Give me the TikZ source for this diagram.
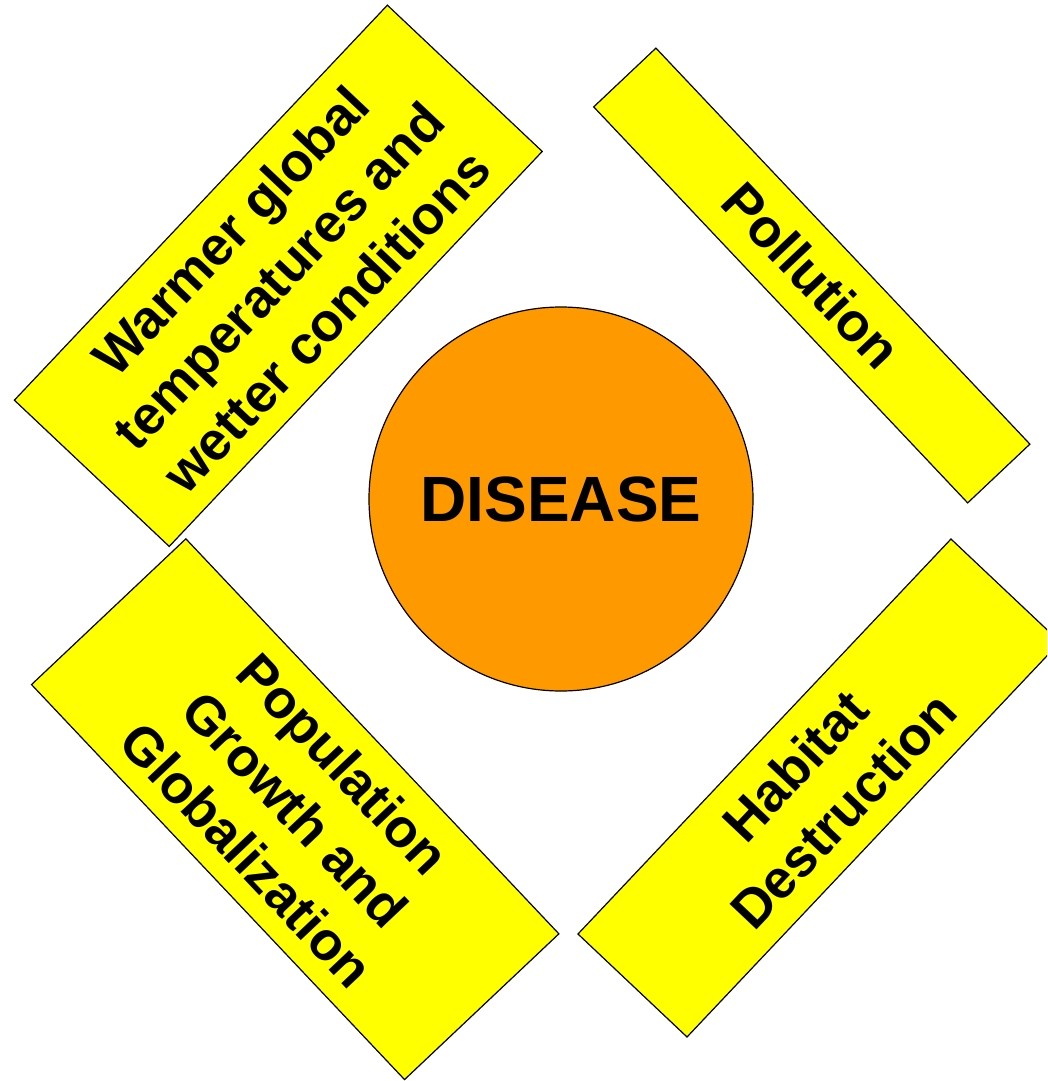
\documentclass[tikz,border=0pt]{standalone}
\usepackage{fontspec}
\setmainfont{Liberation Sans}
\definecolor{boxyellow}{RGB}{255,255,0}
\definecolor{diseaseorange}{RGB}{255,153,0}
\begin{document}
\begin{tikzpicture}[x=1pt,y=-1pt,
  factor/.style={draw=black, fill=boxyellow, line width=1.2pt, rectangle,
    inner sep=0pt, align=center, font=\fontsize{54}{66}\selectfont\bfseries},
  centre/.style={draw=black, fill=diseaseorange, line width=1.2pt, circle,
    inner sep=0pt, minimum size=384pt, font=\fontsize{64}{70}\selectfont\bfseries}]
\useasboundingbox (0,0) rectangle (1047,1081);
\clip (0,0) rectangle (1047,1081);
\node[centre] (disease) at (561,499) {DISEASE};
\node[factor, minimum width=543.3pt, minimum height=213pt, rotate=46.64] (warm) at (278.3,275.8)
  {Warmer global\\temperatures and\\wetter conditions};
\node[factor, minimum width=544.7pt, minimum height=85.6pt, rotate=-46.64] (poll) at (811.8,275.5)
  {Pollution};
\node[factor, minimum width=543.3pt, minimum height=150pt, rotate=46.64] (habit) at (819,788)
  {Habitat\\Destruction};
\node[factor, minimum width=543.3pt, minimum height=212.3pt, rotate=-46.64] (popul) at (295.2,809.2)
  {Population\\Growth and\\Globalization};
\end{tikzpicture}
\end{document}
